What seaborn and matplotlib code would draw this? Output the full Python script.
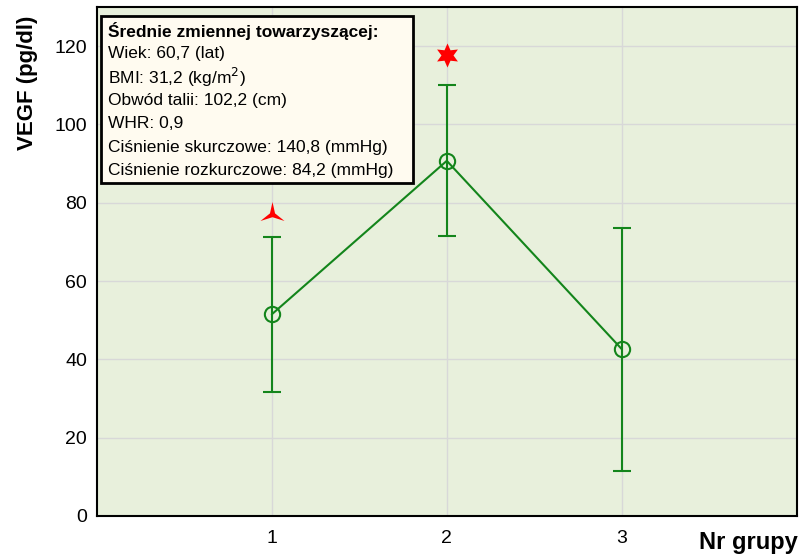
import matplotlib
matplotlib.use("Agg")
import matplotlib.pyplot as plt
import seaborn as sns
import pandas as pd
from matplotlib.path import Path
from matplotlib.patches import Rectangle

groups = [1, 2, 3]
means = [51.5, 90.7, 42.6]
upper = [71.3, 110.1, 73.6]
lower = [31.6, 71.5, 11.4]
sig_groups = [1, 2]
sig_values = [77.8, 117.8]
box_title = "Średnie zmiennej towarzyszącej:"
box_lines = ["Wiek: 60,7 (lat)", "BMI: 31,2 (kg/m$^2$)", "Obwód talii: 102,2 (cm)",
             "WHR: 0,9", "Ciśnienie skurczowe: 140,8 (mmHg)", "Ciśnienie rozkurczowe: 84,2 (mmHg)"]

sns.set_style("white")
plt.rcParams['font.family'] = ['Liberation Sans', 'DejaVu Sans']
plt.rcParams['text.color'] = 'black'
plt.rcParams['axes.labelcolor'] = 'black'
plt.rcParams['xtick.color'] = 'black'
plt.rcParams['ytick.color'] = 'black'

df = pd.DataFrame({"grp": groups, "mean": means})
fig = plt.figure(figsize=(8, 5.6), dpi=100)
ax = fig.add_axes([0.121, 0.0786, 0.875, 0.909])
ax.set_facecolor("#E8F0DC")

green = "#13851B"
ax.errorbar(groups, means,
            yerr=[[m - l for m, l in zip(means, lower)], [u - m for m, u in zip(means, upper)]],
            fmt="none", ecolor=green, elinewidth=1.5, capsize=6.5, capthick=1.5, zorder=3)
sns.lineplot(data=df, x="grp", y="mean", ax=ax, color=green, lw=1.5, marker="o",
             markersize=11, markerfacecolor="none", markeredgecolor=green, markeredgewidth=1.5, zorder=4)

tri = Path([(0, 0.75), (0.2, -0.15), (0.95, -0.75), (0, -0.45), (-0.95, -0.75), (-0.2, -0.15), (0, 0.75)],
           [Path.MOVETO] + [Path.LINETO] * 5 + [Path.CLOSEPOLY])
sig_df = pd.DataFrame({"g": sig_groups, "v": sig_values})
sns.scatterplot(data=sig_df.iloc[[0]], x="g", y="v", ax=ax, marker=tri, s=300, color="#FF0000",
                linewidth=0, zorder=5, legend=False)
sns.scatterplot(data=sig_df.iloc[[1]], x="g", y="v", ax=ax, marker=(6, 1, 0), s=300, color="#FF0000",
                linewidth=0, zorder=5, legend=False)

ax.set_xlim(0, 4)
ax.set_ylim(0, 130)
ax.set_xticks([1, 2, 3])
ax.set_yticks([0, 20, 40, 60, 80, 100, 120])
ax.grid(True, color="#D8D8D8", lw=1)
ax.set_axisbelow(True)
ax.tick_params(axis="y", labelsize=14, length=3, direction="out", pad=4)
ax.tick_params(axis="x", labelsize=14, length=4, direction="in", pad=10)
for s in ax.spines.values():
    s.set_color("black")
    s.set_linewidth(1.5)
ax.set_xlabel("")
ax.set_ylabel("VEGF (pg/dl)", fontsize=16, fontweight="bold")
ax.yaxis.set_label_coords(-0.084, 0.85)
fig.text(0.997, 1-543/560, "Nr grupy", ha="right", va="center", fontsize=17, fontweight="bold")

# info box
bx0, by0, bx1, by1 = 101/800, 1-183/560, 413/800, 1-16/560
rect = Rectangle((bx0, by0), bx1-bx0, by1-by0, transform=fig.transFigure,
                 facecolor="#FFFBF0", edgecolor="black", lw=2, zorder=10)
fig.patches.append(rect)
fig.text(108/800, 1-31/560, box_title, fontsize=12.5, fontweight="bold", va="center", ha="left", zorder=11)
for i, t in enumerate(box_lines):
    fig.text(108/800, 1-(53.5+i*23.5)/560, t, fontsize=12.5, va="center", ha="left", zorder=11)

fig.savefig("out.png", dpi=100)
